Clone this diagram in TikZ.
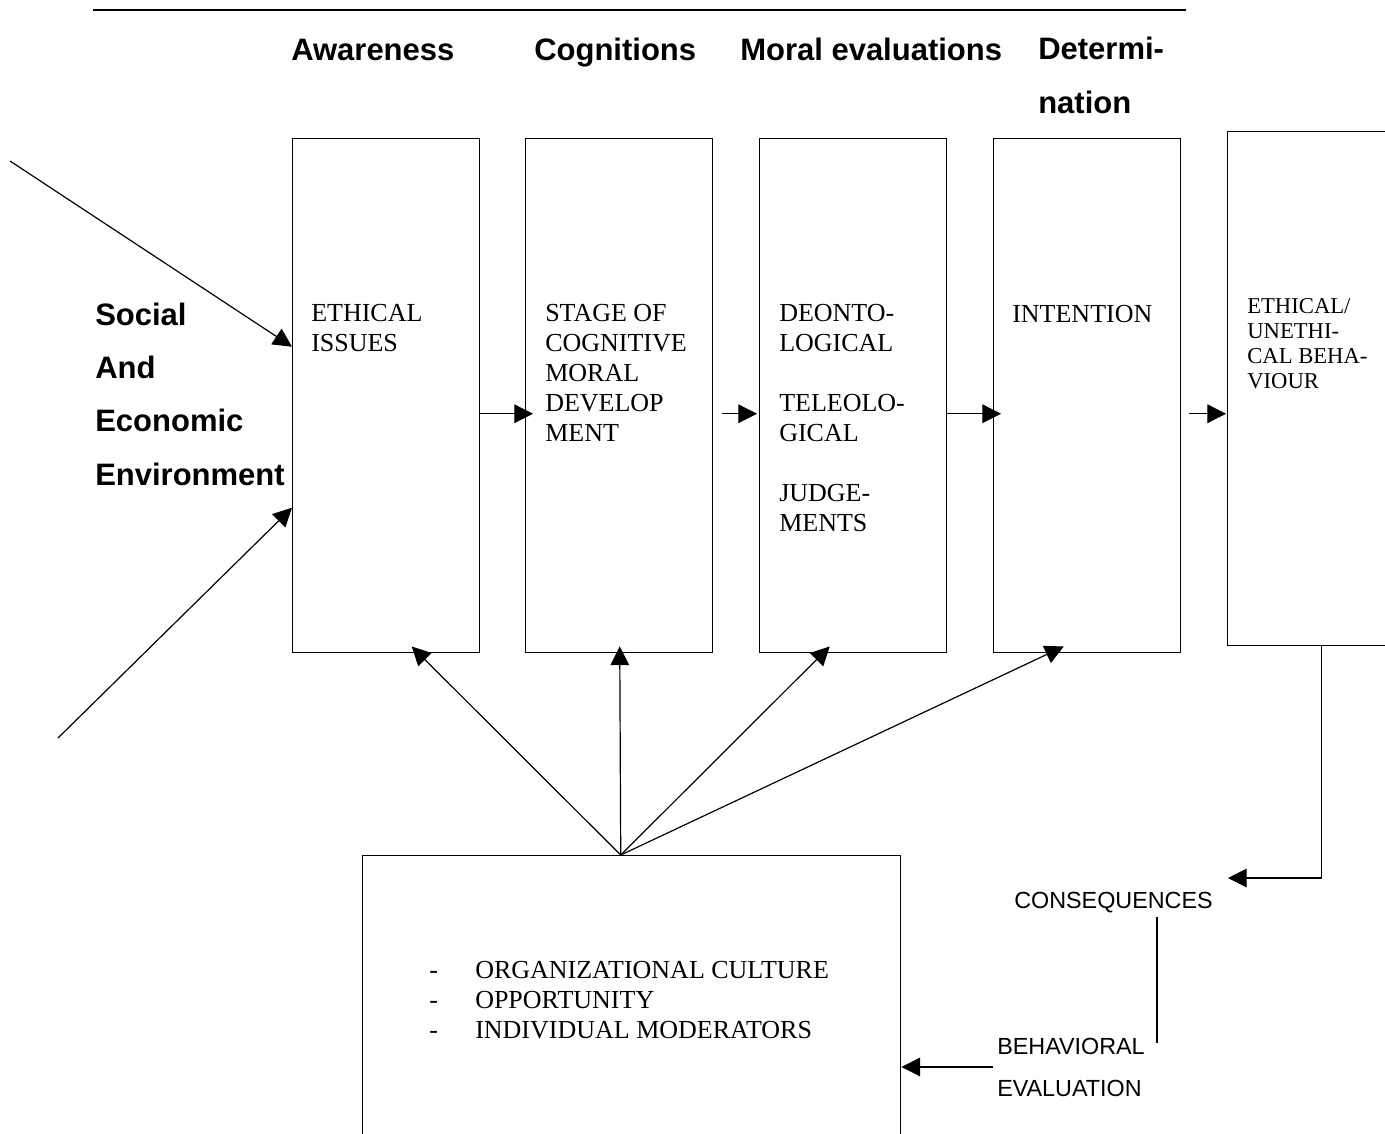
\documentclass[tikz,border=0pt]{standalone}
\usepackage{fontspec}
\setmainfont{Liberation Serif}
\setsansfont{Liberation Sans}
\usetikzlibrary{positioning,arrows.meta,calc}
\newcommand{\orgitem}[1]{\makebox[34.5pt][l]{-}#1}

\begin{document}
\begin{tikzpicture}[x=0.75pt, y=-0.75pt,
  box/.style={draw, line width=1.1pt, anchor=north west, inner sep=0pt, minimum width=140.25pt, minimum height=385.5pt},
  txt/.style={anchor=base west, inner sep=0pt, align=left, font=\fontsize{19.5}{22.5}\selectfont},
  small/.style={anchor=base west, inner sep=0pt, align=left, font=\fontsize{17}{18.75}\selectfont},
  head/.style={anchor=base west, inner sep=0pt, align=left, font=\sffamily\bfseries\fontsize{23.25}{40}\selectfont},
  note/.style={anchor=base west, inner sep=0pt, align=left, font=\sffamily\fontsize{17.5}{31.5}\selectfont},
  arr/.style={-{Triangle[length=14pt, width=14pt]}, line width=0.9pt}]
\useasboundingbox (0,0) rectangle (1385,1133);
\draw[line width=2.2pt] (93,10) -- (1186,10);
% stage headings (base = last line)
\node[head] (aw) at (291,60) {Awareness};
\node[head] (cg) at (534,60) {Cognitions};
\node[head] (me) at (740,60) {Moral evaluations};
\node[head] (de) at (1038,113) {Determi-\\nation};
\node[head] (env) at (95,485) {Social\\And\\Economic\\Environment};
% boxes
\node[box] (b1) at (292,138) {};
\node[box] (b2) at (525,138) {};
\node[box] (b3) at (759,138) {};
\node[box] (b4) at (993,138) {};
\node[box, minimum width=141pt] (b5) at (1227,131) {};
\node[box, minimum width=403.5pt, minimum height=217.5pt] (org) at (362,855) {};
\node[txt] (t1) at (311,351) {ETHICAL\\ISSUES};
\node[txt] (t2) at (545,441) {STAGE OF\\COGNITIVE\\MORAL\\DEVELOP\\MENT};
\node[txt] (t3) at (779,531) {DEONTO-\\LOGICAL\\[22.5pt]TELEOLO-\\GICAL\\[22.5pt]JUDGE-\\MENTS};
\node[txt] (t4) at (1012,322) {INTENTION};
\node[small] (t5) at (1247,388) {ETHICAL/\\UNETHI-\\CAL BEHA-\\VIOUR};
\node[txt] (t6) at (429,1038) {\orgitem{ORGANIZATIONAL CULTURE}\\\orgitem{OPPORTUNITY}\\\orgitem{INDIVIDUAL MODERATORS}};
\node[note] (cons) at (1014,908) {CONSEQUENCES};
\node[note] (bev) at (997,1096) {BEHAVIORAL\\EVALUATION};
% connectors
\coordinate (s1) at (10,161);
\coordinate (s2) at (58,738);
\coordinate (hub) at ($(org.north)+(-11,0)$);
\coordinate (ctip) at (1228,878);
\coordinate (vx) at (1157,0);
\draw[arr] (s1) -- ($(b1.west)+(0,-49)$);
\draw[arr] (s2) -- ($(b1.west)+(0,112)$);
\draw[arr] ($(b1.east)+(0,18)$) -- ($(b2.west)+(8,18)$);
\draw[arr] ($(b2.east)+(9,18)$) -- ($(b3.west)+(-2,18)$);
\draw[arr] ($(b3.east)+(0,18)$) -- ($(b4.west)+(8,18)$);
\draw[arr] ($(b4.east)+(8,18)$) -- ($(b5.west)+(-1,25)$);
\foreach \b/\dx in {b1/25.5, b2/0.5, b3/-23.5, b4/-23.5}
  \draw[arr] (hub) -- ($(\b.south)+(\dx,-7)$);
\draw[arr] (b5.south) |- (ctip);
\draw[line width=0.9pt] ($(vx |- cons.south)+(0,4)$) -- ($(vx |- bev.north)+(0,6)$);
\draw[arr] ([xshift=-3pt]bev.west) -- (bev.west -| org.east);
\end{tikzpicture}
\end{document}
